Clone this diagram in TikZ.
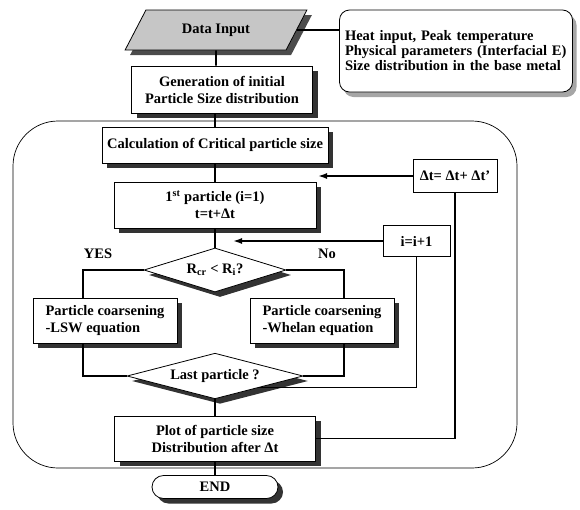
\documentclass[tikz,border=0pt]{standalone}
\usepackage{fontspec}
\setmainfont{Liberation Serif}
\usetikzlibrary{shapes.geometric,shapes.misc,shadows,arrows.meta}

\begin{document}
\begin{tikzpicture}[x=1pt,y=-1pt,
  font=\fontsize{14.5}{17}\selectfont\bfseries,
  >={Latex[length=9pt,width=6pt]},
  box/.style={draw, rectangle, fill=white, line width=0.8pt, inner sep=2pt, align=center,
    drop shadow={shadow xshift=5pt, shadow yshift=-5pt, opacity=1, fill=black!80}},
  plainbox/.style={draw, rectangle, fill=white, line width=0.8pt, inner sep=2pt},
  decision/.style={draw, diamond, aspect=3, fill=white, line width=0.8pt, inner sep=1pt,
    drop shadow={shadow xshift=5pt, shadow yshift=-5pt, opacity=1, fill=black!80}},
  io/.style={draw, trapezium, trapezium left angle=60, trapezium right angle=120,
    trapezium stretches=true, fill=gray!45, line width=0.8pt,
    drop shadow={shadow xshift=5pt, shadow yshift=-5pt, opacity=1, fill=black!70}},
  info/.style={draw, rectangle, rounded corners=10, fill=white, line width=0.8pt,
    align=left, text width=222, inner xsep=5.5pt,
    font=\fontsize{14.5}{15}\selectfont\bfseries,
    drop shadow={shadow xshift=4pt, shadow yshift=-5pt, opacity=1, fill=gray!70}},
  link/.style={line width=1.6pt}]
\useasboundingbox (0,0) rectangle (580,509);

% loop frame
\draw[line width=0.7pt, rounded corners=45] (13,121) rectangle (517,468);

\node[io, minimum width=182, minimum height=40] (input) at (216,30) {Data Input};
\node[info, minimum height=82] (param) at (456,51) {Heat input, Peak temperature\\Physical parameters (Interfacial E)\\Size distribution in the base metal};
\node[box, minimum width=181, minimum height=47] (gen) at (222,89.5) {Generation of initial\\Particle Size distribution};
\node[box, minimum width=226, minimum height=36] (crit) at (215,145) {Calculation of Critical particle size};
\node[box, minimum width=202, minimum height=46] (first) at (215,205) {1\textsuperscript{st} particle (i=1)\\t=t+Δt};
\node[plainbox, minimum width=84, minimum height=33] (dt) at (455,176) {Δt= Δt+ Δt'};
\node[plainbox, minimum width=67, minimum height=31] (inc) at (416.5,241) {i=i+1};
\node[decision, minimum width=142, minimum height=44] (size) at (215,270) {R\textsubscript{cr} < R\textsubscript{i}?};
\node[box, align=left, minimum width=144, minimum height=45] (lsw) at (105,320.5) {Particle coarsening\\-LSW equation};
\node[box, align=left, minimum width=144, minimum height=45] (whelan) at (322,320.5) {Particle coarsening\\-Whelan equation};
\node[decision, minimum width=176, minimum height=45] (last) at (215,376) {Last particle ?};
\node[box, minimum width=201, minimum height=45] (plot) at (215,438.5) {Plot of particle size\\Distribution after Δt};
\node[box, rounded rectangle, minimum width=130, minimum height=23] (end) at (215,487) {END};

\node (yes) at (98,254) {YES};
\node (no) at (327,254) {No};

\coordinate (lcol) at (83,0);
\coordinate (rcol) at (344,0);
\coordinate (dtend) at (318,0);
\coordinate (incend) at (233,0);

\draw[link] (input) -- (input |- gen.north);
\draw[link] (input.east) -- (input.east -| param.west);
\draw[link] (crit |- gen.south) -- (crit);
\draw[link] (crit) -- (first);
\draw[link] (first) -- (size);
\draw[link] (size.west) -| (lcol |- lsw.north);
\draw[link] (size.east) -| (rcol |- whelan.north);
\draw[link] (lcol |- lsw.south) |- (last.west);
\draw[link] (rcol |- whelan.south) |- (last.east);
\draw[link] (last) -- (plot);
\draw[link] (plot) -- (end);
\draw[link] (last.south east) -| (inc.south);
\draw[link, ->] (inc.west) -- (inc.west -| incend);
\draw[link] (dt.south) |- (plot.east);
\draw[link, ->] (dt.west) -- (dt.west -| dtend);
\end{tikzpicture}
\end{document}
